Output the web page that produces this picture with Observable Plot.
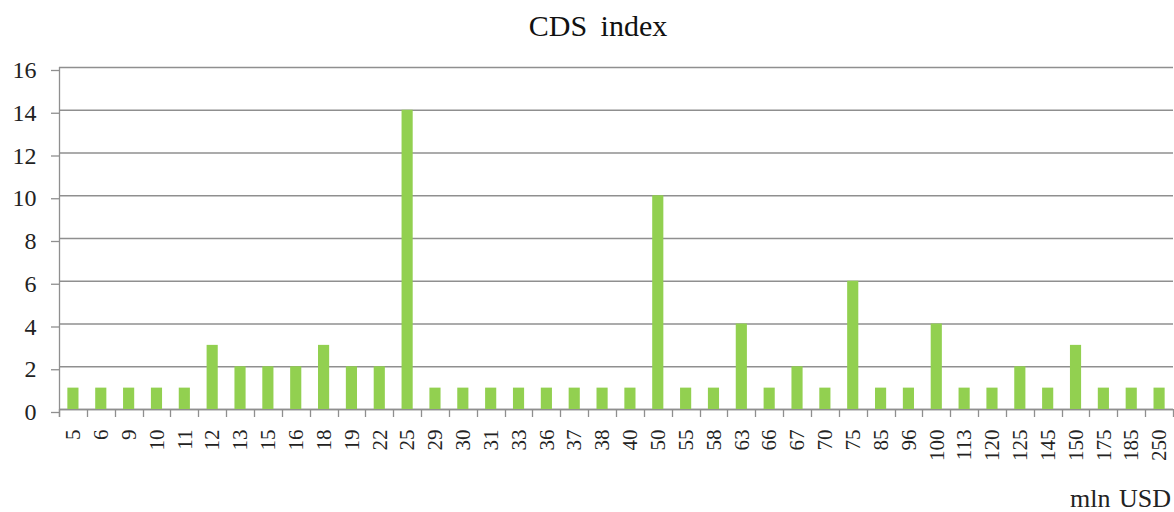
<!DOCTYPE html>
<html>
<head>
<meta charset="utf-8">
<script src="https://cdn.jsdelivr.net/npm/d3@7"></script>
<script src="https://cdn.jsdelivr.net/npm/@observablehq/plot@0.6"></script>
<style>
  html, body { margin: 0; padding: 0; background: #fff; }
  #wrap { position: relative; width: 1174px; height: 512px; overflow: hidden; font-family: "Liberation Serif", serif; color: #111; }
  #title { height: 46px; line-height: 52px; text-align: center; font-size: 30px; word-spacing: 6px; padding-left: 22px; }
  #unit { position: absolute; right: 3px; top: 486px; font-size: 26px; line-height: 1; word-spacing: 2px; color: #222; }
  svg { display: block; }
</style>
</head>
<body>
<div id="wrap">
  <div id="title">CDS index</div>
  <div id="chart"></div>
  <div id="unit">mln USD</div>
</div>
<script>
const categories = ["5","6","9","10","11","12","13","15","16","18","19","22","25","29","30","31","33","36","37","38","40","50","55","58","63","66","67","70","75","85","96","100","113","120","125","145","150","175","185","250"];
const counts = [1,1,1,1,1,3,2,2,2,3,2,2,14,1,1,1,1,1,1,1,1,10,1,1,4,1,2,1,6,1,1,4,1,1,2,1,3,1,1,1];
const yTicks = [0,2,4,6,8,10,12,14,16];

const data = categories.map((c, i) => ({category: c, count: counts[i]}));
const padInner = 0.6;
const axisGray = "#8f8f8f";

function boundaryTicks(index, scales, values, dimensions) {
  const xs = scales.x;
  const step = xs(categories[1]) - xs(categories[0]);
  const y0 = dimensions.height - dimensions.marginBottom;
  const g = document.createElementNS("http://www.w3.org/2000/svg", "g");
  g.setAttribute("stroke", axisGray);
  g.setAttribute("stroke-width", "1.3");
  const xsList = categories.map(c => xs(c) - step * padInner / 2);
  xsList.push(xsList[xsList.length - 1] + step);
  for (const bx of xsList) {
    const l = document.createElementNS("http://www.w3.org/2000/svg", "line");
    const px = Math.round(bx) + 0.5;
    l.setAttribute("x1", px); l.setAttribute("x2", px);
    l.setAttribute("y1", y0); l.setAttribute("y2", y0 + 8);
    g.appendChild(l);
  }
  const a = document.createElementNS("http://www.w3.org/2000/svg", "line");
  const ax = dimensions.marginLeft + 0.5;
  a.setAttribute("x1", ax); a.setAttribute("x2", ax);
  a.setAttribute("y1", dimensions.marginTop); a.setAttribute("y2", y0 + 8);
  g.appendChild(a);
  return g;
}

const chart = Plot.plot({
  width: 1174,
  height: 444,
  marginLeft: 59,
  marginRight: 1,
  marginTop: 21,
  marginBottom: 81,
  style: {fontFamily: "'Liberation Serif', serif", background: "#fff", color: "#222", overflow: "visible"},
  x: {domain: categories, paddingInner: padInner, paddingOuter: padInner / 2, axis: null, label: null},
  y: {domain: [0, 16], axis: null, label: null},
  marks: [
    Plot.gridY(yTicks, {stroke: axisGray, strokeOpacity: 1, strokeWidth: 1.3}),
    Plot.axisY(yTicks, {tickSize: 8, tickPadding: 15, fontSize: 24, stroke: axisGray, strokeWidth: 1.3, label: null, dy: 3}),
    Plot.ruleY([0], {stroke: axisGray, strokeWidth: 1.3}),
    Plot.barY(data, {x: "category", y: "count", fill: "#92d050"}),
    Plot.axisX({tickSize: 0, tickPadding: 20, tickRotate: -90, fontSize: 21, label: null}),
    boundaryTicks
  ]
});
document.getElementById("chart").appendChild(chart);
</script>
</body>
</html>
